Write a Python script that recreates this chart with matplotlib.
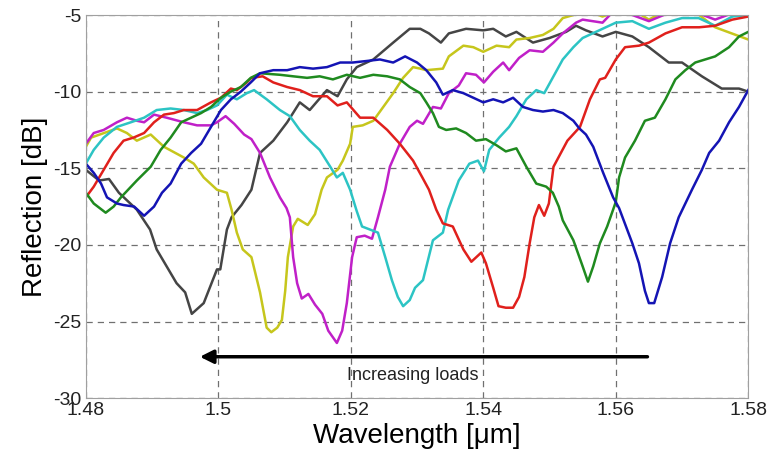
import numpy as np
import matplotlib.pyplot as plt

plt.rcParams['font.family'] = ['Liberation Sans', 'DejaVu Sans']
plt.rcParams['axes.unicode_minus'] = False

# wavelength [um] / reflection [dB], one pair per load
gray_x = [1.48, 1.482, 1.4835, 1.485, 1.4877, 1.4897, 1.4907, 1.4937, 1.495, 1.496, 1.4978, 1.4998,
          1.5003, 1.5013, 1.502, 1.5035, 1.505, 1.5063, 1.5083, 1.5104, 1.5123, 1.5138, 1.5164, 1.518,
          1.5194, 1.5209, 1.5234, 1.5264, 1.5289, 1.5305, 1.5318, 1.5336, 1.5348, 1.5374, 1.54, 1.5415,
          1.5434, 1.545, 1.5475, 1.55, 1.5525, 1.554, 1.5555, 1.558, 1.56, 1.5625, 1.565, 1.568, 1.57,
          1.573, 1.576, 1.5786, 1.58]
gray_y = [-15.1, -15.8, -15.7, -16.6, -17.7, -19.0, -20.3, -22.5, -23.1, -24.5, -23.8, -21.6,
          -21.6, -19.0, -18.2, -17.4, -16.4, -14.0, -13.2, -12.0, -10.7, -11.2, -9.9, -10.3,
          -9.2, -8.4, -7.9, -6.8, -5.9, -5.9, -6.2, -6.8, -6.2, -5.9, -6.0, -5.9,
          -6.4, -6.1, -6.8, -6.5, -6.1, -5.7, -6.0, -6.4, -6.1, -6.4, -7.1, -8.1, -8.1,
          -9.0, -9.8, -9.8, -10.0]

yellow_x = [1.48, 1.4808, 1.4847, 1.4862, 1.4877, 1.4898, 1.4918, 1.4948, 1.4963, 1.4978, 1.4998,
            1.5013, 1.502, 1.5028, 1.5037, 1.505, 1.5063, 1.5073, 1.508, 1.5089, 1.5096, 1.5101,
            1.5105, 1.5113, 1.512, 1.5135, 1.5146, 1.5156, 1.5164, 1.518, 1.5188, 1.5199, 1.5203,
            1.5218, 1.5234, 1.5249, 1.5264, 1.5279, 1.5294, 1.5305, 1.5314, 1.5339, 1.5348, 1.537,
            1.5385, 1.54, 1.542, 1.5439, 1.545, 1.547, 1.549, 1.5506, 1.552, 1.5536, 1.555, 1.558,
            1.562, 1.565, 1.568, 1.572, 1.575, 1.58]
yellow_y = [-13.6, -13.0, -12.4, -12.7, -13.2, -12.8, -13.6, -14.3, -14.7, -15.6, -16.4,
            -16.6, -17.7, -19.2, -20.3, -20.8, -23.1, -25.4, -25.7, -25.4, -24.9, -23.0,
            -20.8, -18.8, -18.3, -18.7, -18.0, -16.4, -15.6, -15.1, -14.5, -13.4, -12.3,
            -12.2, -11.9, -11.0, -10.1, -9.1, -8.4, -8.5, -8.6, -8.5, -7.7, -7.0,
            -7.1, -7.4, -7.0, -7.1, -6.6, -6.5, -6.3, -5.9, -5.2, -5.0, -4.6, -5.1,
            -4.5, -5.3, -4.6, -4.8, -5.8, -6.6]

magenta_x = [1.48, 1.4812, 1.4827, 1.4847, 1.4862, 1.4877, 1.4888, 1.4903, 1.4922, 1.4948, 1.4968,
             1.4989, 1.4998, 1.5011, 1.5024, 1.5039, 1.505, 1.5063, 1.5078, 1.5093, 1.5103, 1.5108,
             1.5113, 1.5119, 1.5126, 1.5136, 1.5146, 1.5157, 1.5166, 1.5179, 1.5187, 1.5194, 1.5202,
             1.5209, 1.5221, 1.5232, 1.5241, 1.5252, 1.5259, 1.5274, 1.5289, 1.53, 1.5309, 1.5324,
             1.5336, 1.5348, 1.5363, 1.5374, 1.5389, 1.5401, 1.5415, 1.543, 1.5439, 1.5454, 1.547,
             1.549, 1.5506, 1.552, 1.554, 1.555, 1.558, 1.56, 1.565, 1.57, 1.575, 1.58]
magenta_y = [-13.4, -12.7, -12.5, -12.0, -11.7, -11.9, -12.0, -11.5, -11.7, -12.0, -12.2,
             -12.2, -12.0, -11.6, -12.1, -12.8, -13.1, -14.0, -15.6, -16.9, -17.6, -18.2,
             -20.8, -22.5, -23.5, -23.2, -23.9, -24.5, -25.6, -26.4, -25.6, -23.8, -20.8,
             -19.5, -19.4, -19.6, -18.2, -16.4, -14.9, -13.4, -12.3, -11.9, -12.1, -11.0,
             -11.1, -10.1, -9.6, -8.8, -8.9, -9.4, -8.7, -8.1, -8.6, -7.8, -7.3,
             -7.4, -6.8, -6.2, -5.5, -5.3, -5.5, -4.6, -5.4, -4.5, -5.3, -4.5]

cyan_x = [1.48, 1.4812, 1.4827, 1.4847, 1.4868, 1.4888, 1.4907, 1.4928, 1.4948, 1.4968, 1.4983,
          1.4998, 1.5013, 1.5028, 1.5043, 1.5054, 1.5073, 1.5093, 1.5108, 1.5123, 1.5138, 1.5153,
          1.5169, 1.5179, 1.5188, 1.5199, 1.5209, 1.5217, 1.5229, 1.5241, 1.5252, 1.5262, 1.5271,
          1.5279, 1.5289, 1.5297, 1.5309, 1.5324, 1.5339, 1.5347, 1.5363, 1.5379, 1.5392, 1.5401,
          1.5409, 1.5424, 1.5439, 1.545, 1.5465, 1.548, 1.5492, 1.5506, 1.552, 1.5536, 1.555,
          1.5575, 1.56, 1.5625, 1.565, 1.5675, 1.57, 1.5725, 1.575, 1.5776, 1.58]
cyan_y = [-14.7, -13.8, -13.0, -12.3, -12.0, -11.7, -11.2, -11.1, -11.2, -11.4, -11.2,
          -10.9, -10.2, -10.5, -10.1, -9.9, -10.5, -11.2, -11.6, -12.5, -13.2, -13.8,
          -14.9, -15.6, -15.3, -16.4, -17.8, -18.8, -19.0, -19.2, -20.8, -22.3, -23.4,
          -24.0, -23.6, -22.8, -22.3, -19.7, -19.2, -17.7, -15.8, -14.7, -14.5, -15.2,
          -13.8, -13.0, -12.3, -11.6, -10.5, -9.9, -10.1, -9.0, -7.9, -7.1, -6.5,
          -6.0, -5.5, -5.4, -5.9, -5.5, -5.2, -5.2, -5.7, -5.1, -5.0]

red_x = [1.48, 1.4812, 1.4827, 1.4842, 1.4857, 1.4872, 1.4888, 1.4903, 1.4918, 1.4933, 1.4948,
         1.4968, 1.4989, 1.5004, 1.5019, 1.5028, 1.5043, 1.505, 1.5067, 1.5083, 1.5104, 1.5123,
         1.5143, 1.5164, 1.518, 1.5194, 1.5214, 1.5234, 1.5255, 1.5274, 1.5294, 1.5308, 1.5318,
         1.5329, 1.5339, 1.5354, 1.537, 1.5382, 1.5397, 1.5404, 1.5415, 1.5423, 1.5434, 1.5445,
         1.5454, 1.5462, 1.547, 1.5477, 1.5484, 1.5492, 1.5499, 1.5506, 1.5527, 1.5546, 1.5561,
         1.5576, 1.5584, 1.56, 1.5614, 1.5635, 1.565, 1.5675, 1.57, 1.5726, 1.575, 1.5776, 1.58]
red_y = [-16.9, -16.2, -15.1, -14.0, -13.2, -13.0, -12.7, -12.0, -11.5, -11.4, -11.2,
         -11.2, -10.7, -10.4, -9.8, -9.9, -9.4, -9.1, -9.0, -9.4, -9.7, -9.9,
         -10.3, -10.3, -10.9, -10.7, -11.7, -11.7, -12.5, -13.4, -14.5, -15.6, -16.4,
         -17.7, -18.6, -18.8, -20.3, -21.1, -20.5, -21.2, -22.8, -24.0, -24.1, -24.1,
         -23.4, -22.1, -19.9, -18.2, -17.4, -18.1, -17.3, -14.9, -13.2, -12.3, -10.5,
         -9.2, -9.1, -7.9, -7.1, -7.0, -6.8, -6.2, -5.8, -5.8, -5.7, -5.3, -5.1]

green_x = [1.48, 1.4812, 1.483, 1.4842, 1.4853, 1.4877, 1.4898, 1.4913, 1.4928, 1.4944, 1.4959,
           1.4974, 1.4989, 1.5004, 1.5019, 1.5034, 1.5049, 1.5063, 1.5093, 1.5113, 1.5134, 1.5153,
           1.5173, 1.5194, 1.5214, 1.5234, 1.5255, 1.5274, 1.5289, 1.5305, 1.5314, 1.5324, 1.5333,
           1.5344, 1.5359, 1.5374, 1.5389, 1.5404, 1.542, 1.5434, 1.545, 1.5465, 1.548, 1.5495,
           1.5505, 1.5514, 1.552, 1.5536, 1.555, 1.5558, 1.5566, 1.5576, 1.5587, 1.5596, 1.56,
           1.5605, 1.5614, 1.5629, 1.5644, 1.5659, 1.5675, 1.569, 1.5705, 1.572, 1.5735, 1.575,
           1.5771, 1.5786, 1.58]
green_y = [-16.6, -17.3, -17.9, -17.5, -16.9, -15.8, -14.9, -13.8, -13.0, -12.0, -11.7,
           -11.4, -11.0, -10.4, -10.0, -9.7, -9.1, -8.8, -8.9, -9.0, -9.1, -9.0,
           -9.2, -8.9, -9.1, -8.9, -9.0, -9.2, -9.7, -10.1, -10.7, -11.4, -12.3,
           -12.5, -12.4, -12.7, -13.2, -13.1, -13.5, -13.9, -13.7, -14.9, -16.0, -16.2,
           -16.6, -17.5, -18.4, -19.7, -21.4, -22.4, -21.4, -19.9, -18.8, -17.7, -17.2,
           -15.6, -14.3, -13.2, -11.9, -11.7, -10.5, -9.2, -8.6, -8.1, -7.9, -7.7,
           -7.1, -6.4, -6.1]

blue_x = [1.48, 1.4812, 1.4823, 1.4832, 1.4847, 1.4857, 1.4873, 1.4888, 1.4903, 1.4915, 1.4928,
          1.4944, 1.4959, 1.4974, 1.4989, 1.5004, 1.5019, 1.5034, 1.5049, 1.5063, 1.5083, 1.5104,
          1.5123, 1.5143, 1.5164, 1.5184, 1.5203, 1.5224, 1.5244, 1.5264, 1.5282, 1.53, 1.5314,
          1.5329, 1.5339, 1.5354, 1.537, 1.5385, 1.54, 1.5415, 1.543, 1.5445, 1.546, 1.5475,
          1.549, 1.5506, 1.552, 1.5536, 1.5545, 1.5555, 1.5566, 1.5581, 1.5596, 1.5605, 1.5625,
          1.5635, 1.5644, 1.565, 1.5658, 1.567, 1.5682, 1.5695, 1.5705, 1.5715, 1.573, 1.5741,
          1.5756, 1.5771, 1.5786, 1.58]
blue_y = [-14.7, -15.3, -16.0, -16.9, -17.3, -17.4, -17.5, -18.1, -17.5, -16.6, -16.0,
          -14.7, -14.0, -13.4, -12.3, -11.2, -10.5, -10.0, -9.4, -8.8, -8.6, -8.6,
          -8.4, -8.5, -8.4, -8.1, -8.1, -8.0, -7.9, -8.1, -7.7, -8.1, -8.6,
          -9.4, -10.2, -9.9, -10.1, -10.4, -10.7, -10.5, -10.7, -10.4, -11.0, -11.2,
          -11.3, -11.2, -11.4, -11.9, -12.4, -12.8, -13.6, -15.3, -16.9, -17.6, -19.9,
          -21.2, -23.0, -23.8, -23.8, -22.1, -19.9, -18.2, -17.3, -16.4, -15.1, -14.0,
          -13.2, -12.0, -11.0, -9.9]

curves = [
    (gray_x, gray_y, '#454545'),
    (yellow_x, yellow_y, '#c6c61c'),
    (magenta_x, magenta_y, '#c020c8'),
    (cyan_x, cyan_y, '#2cc4c4'),
    (red_x, red_y, '#e0201c'),
    (green_x, green_y, '#1f8a1f'),
    (blue_x, blue_y, '#1414b4'),
]

xticks = [1.48, 1.5, 1.52, 1.54, 1.56, 1.58]
xtick_labels = ['1.48', '1.5', '1.52', '1.54', '1.56', '1.58']
yticks = [-30, -25, -20, -15, -10, -5]

fig = plt.figure(figsize=(7.73, 4.55), dpi=100)
ax = fig.add_axes([0.111, 0.125, 0.857, 0.842])

for xs, ys, c in curves:
    ax.plot(xs, ys, color=c, lw=1.8)

ax.set_xlim(1.48, 1.58)
ax.set_ylim(-30, -5)
ax.set_xticks(xticks)
ax.set_xticklabels(xtick_labels)
ax.set_yticks(yticks)
ax.grid(True, color='#707070', linestyle=(0, (5, 4)), lw=0.9)
ax.tick_params(length=0, labelsize=14, colors='#222222', pad=3)
for s in ax.spines.values():
    s.set_color('#a0a0a0')

ax.set_xlabel('Wavelength [\u03bcm]', fontsize=20, labelpad=3)
ax.set_ylabel('Reflection [dB]', fontsize=20, labelpad=4)

# load arrow
ax.annotate('', xy=(1.4968, -27.3), xytext=(1.5652, -27.3),
            arrowprops=dict(arrowstyle='-|>', color='black', lw=2.5, mutation_scale=20))
ax.text(1.5195, -28.5, 'Increasing loads', fontsize=13, va='center', ha='left', color='#222222')

fig.savefig('out.png', dpi=100)
